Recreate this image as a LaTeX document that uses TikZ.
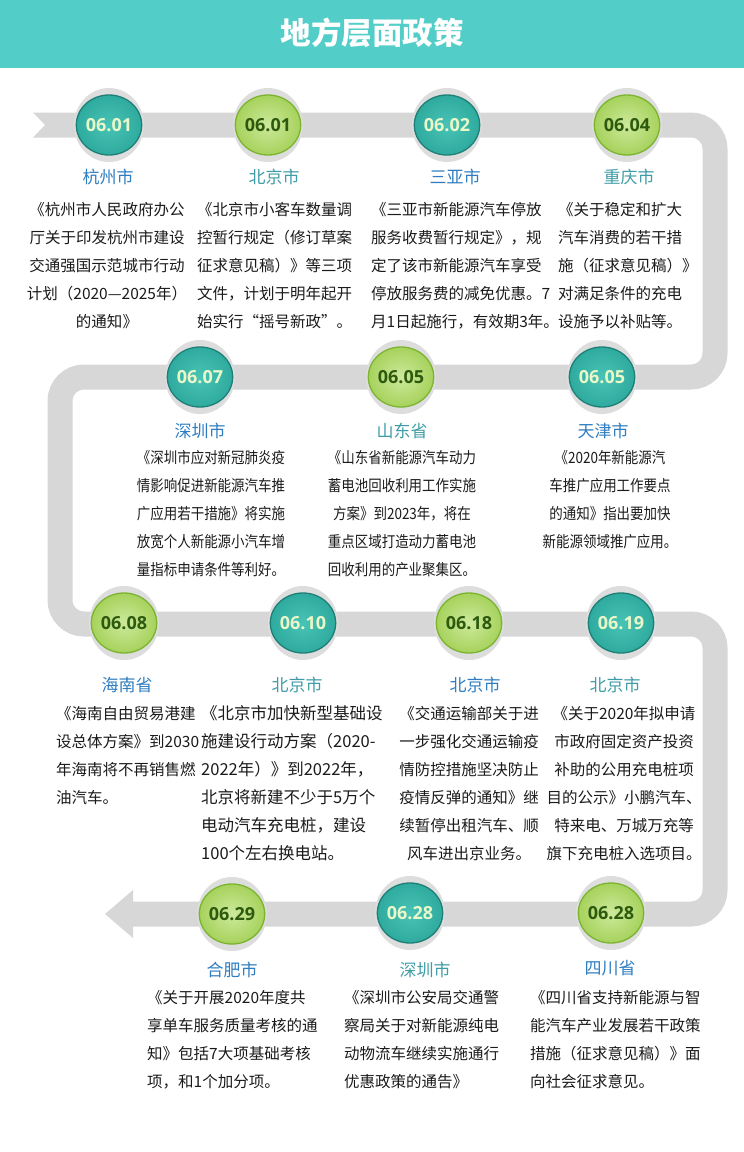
\documentclass[tikz,border=0pt]{standalone}
\usepackage{fontspec}
\usepackage{xcolor}
\usetikzlibrary{shapes.geometric}
\newfontfamily\cjk{Noto Sans CJK SC}
\newfontfamily\cjknarrow{Noto Sans CJK SC}[FakeStretch=0.87]
\newfontfamily\numfont{Open Sans}

\definecolor{headteal}{HTML}{52CDC7}
\definecolor{trackgray}{HTML}{D7D7D7}
\definecolor{halogray}{HTML}{DDDDDD}
\definecolor{dotteal}{HTML}{2FAA9E}
\definecolor{dottealin}{HTML}{48C4B6}
\definecolor{dottealrim}{HTML}{1E7F76}
\definecolor{dotgreen}{HTML}{A6D25C}
\definecolor{dotgreenin}{HTML}{CDE99C}
\definecolor{dotgreenrim}{HTML}{7BB42E}
\definecolor{numpale}{HTML}{EAF8C9}
\definecolor{numdark}{HTML}{2E5A0F}
\definecolor{cityblue}{HTML}{2F7DC0}
\definecolor{cityteal}{HTML}{3F9CA6}
\definecolor{bodyink}{HTML}{1A1A1A}

\begin{document}
\begin{tikzpicture}[x=1bp, y=-1bp,
    track/.style={trackgray, line width=25bp, rounded corners=24bp},
    bodytext/.style={inner sep=0pt, text=bodyink, font=\cjk\fontsize{15.5bp}{28bp}\selectfont},
    narrowtext/.style={bodytext, font=\cjknarrow\fontsize{15.5bp}{28bp}\selectfont},
    cityname/.style={inner sep=0pt, font=\cjk\fontsize{17bp}{20bp}\selectfont},
    dotbase/.style={ellipse, minimum width=57bp, minimum height=60bp, inner sep=0pt,
        line width=1.3bp, font=\numfont\bfseries\fontsize{18bp}{20bp}\selectfont},
    tealdot/.style={dotbase, draw=dottealrim, inner color=dottealin, outer color=dotteal, text=numpale},
    greendot/.style={dotbase, draw=dotgreenrim, inner color=dotgreenin, outer color=dotgreen, text=numdark}]

    \useasboundingbox (0,0) rectangle (744,1152);

    % Header
    \fill[headteal] (0,0) rectangle (744,68);
    \node[text=white, font=\cjk\bfseries\fontsize{30.5bp}{34bp}\selectfont] (title) at (372,33) {地方层面政策};

    % Track
    \coordinate (tail) at (45,125);
    \coordinate (ne) at (715,125);
    \coordinate (e2) at (715,377);
    \coordinate (w2) at (60,377);
    \coordinate (w3) at (60,624);
    \coordinate (e3) at (715,624);
    \coordinate (e4) at (715,914);
    \coordinate (head) at (132,914);
    \draw[track] (tail) -- (ne) -- (e2) -- (w2) -- (w3) -- (e3) -- (e4) -- (head);
    \fill[trackgray] (33,112.5) -- (46,112.5) -- (46,137.5) -- (33,137.5) -- (tail) -- cycle;
    \fill[trackgray] (133,890) -- (105,914) -- (133,938) -- cycle;

    % Date dots
    \foreach \i/\x/\y/\kind/\d in {1/109/125/tealdot/06.01, 2/268/125/greendot/06.01,
        3/447/125/tealdot/06.02, 4/627/125/greendot/06.04,
        5/200/377/tealdot/06.07, 6/401/377/greendot/06.05, 7/602/377/tealdot/06.05,
        8/124/623/greendot/06.08, 9/303/623/tealdot/06.10, 10/469/623/greendot/06.18,
        11/621/623/tealdot/06.19,
        12/232/914/greendot/06.29, 13/410/913/tealdot/06.28, 14/611/913/greendot/06.28} {
        \fill[halogray] (\x,\y) ellipse [x radius=35bp, y radius=37bp];
        \node[\kind] (d\i) at (\x,\y) {\d};
    }

    % Row 1
    \node[cityname, text=cityblue] (c1) at (108,177) {杭州市};
    \node[cityname, text=cityteal] (c2) at (274,177) {北京市};
    \node[cityname, text=cityblue] (c3) at (455,177) {三亚市};
    \node[cityname, text=cityteal] (c4) at (629,177) {重庆市};
    \node[bodytext, align=center, anchor=north] (b1) at (107,202)
        {《杭州市人民政府办公\\厅关于印发杭州市建设\\交通强国示范城市行动\\计划（2020—2025年）\\的通知》};
    \node[bodytext, align=left, anchor=north west] (b2) at (197,202)
        {《北京市小客车数量调\\控暂行规定（修订草案\\征求意见稿）》等三项\\文件，计划于明年起开\\始实行“摇号新政”。};
    \node[bodytext, align=left, anchor=north west] (b3) at (371,202)
        {《三亚市新能源汽车停放\\服务收费暂行规定》，规\\定了该市新能源汽车享受\\停放服务费的减免优惠。7\\月1日起施行，有效期3年。};
    \node[bodytext, align=left, anchor=north west] (b4) at (558,202)
        {《关于稳定和扩大\\汽车消费的若干措\\施（征求意见稿）》\\对满足条件的充电\\设施予以补贴等。};

    % Row 2
    \node[cityname, text=cityblue] (c5) at (200,431) {深圳市};
    \node[cityname, text=cityteal] (c6) at (402,431) {山东省};
    \node[cityname, text=cityblue] (c7) at (603,431) {天津市};
    \node[narrowtext, align=center, anchor=north] (b5) at (211,450)
        {《深圳市应对新冠肺炎疫\\情影响促进新能源汽车推\\广应用若干措施》将实施\\放宽个人新能源小汽车增\\量指标申请条件等利好。};
    \node[narrowtext, align=center, anchor=north] (b6) at (402,450)
        {《山东省新能源汽车动力\\蓄电池回收利用工作实施\\方案》到2023年，将在\\重点区域打造动力蓄电池\\回收利用的产业聚集区。};
    \node[narrowtext, align=center, anchor=north] (b7) at (610,450)
        {《2020年新能源汽\\车推广应用工作要点\\的通知》指出要加快\\新能源领域推广应用。};

    % Row 3
    \node[cityname, text=cityblue] (c8) at (127,685) {海南省};
    \node[cityname, text=cityteal] (c9) at (297,685) {北京市};
    \node[cityname, text=cityblue] (c10) at (475,685) {北京市};
    \node[cityname, text=cityteal] (c11) at (615,685) {北京市};
    \node[bodytext, align=left, anchor=north west] (b8) at (56,706)
        {《海南自由贸易港建\\设总体方案》到2030\\年海南将不再销售燃\\油汽车。};
    \node[bodytext, align=left, anchor=north west, font=\cjk\fontsize{16.5bp}{28bp}\selectfont] (b9) at (201,705)
        {《北京市加快新型基础设\\施建设行动方案（2020-\\2022年）》到2022年，\\北京将新建不少于5万个\\电动汽车充电桩，建设\\100个左右换电站。};
    \node[bodytext, align=center, anchor=north] (b10) at (469,706)
        {《交通运输部关于进\\一步强化交通运输疫\\情防控措施坚决防止\\疫情反弹的通知》继\\续暂停出租汽车、顺\\风车进出京业务。};
    \node[bodytext, align=center, anchor=north] (b11) at (624,706)
        {《关于2020年拟申请\\市政府固定资产投资\\补助的公用充电桩项\\目的公示》小鹏汽车、\\特来电、万城万充等\\旗下充电桩入选项目。};

    % Row 4
    \node[cityname, text=cityblue] (c12) at (232,970) {合肥市};
    \node[cityname, text=cityteal] (c13) at (425,970) {深圳市};
    \node[cityname, text=cityblue] (c14) at (610,968) {四川省};
    \node[bodytext, align=left, anchor=north west] (b12) at (147,990)
        {《关于开展2020年度共\\享单车服务质量考核的通\\知》包括7大项基础考核\\项，和1个加分项。};
    \node[bodytext, align=left, anchor=north west] (b13) at (344,990)
        {《深圳市公安局交通警\\察局关于对新能源纯电\\动物流车继续实施通行\\优惠政策的通告》};
    \node[bodytext, align=left, anchor=north west] (b14) at (530,990)
        {《四川省支持新能源与智\\能汽车产业发展若干政策\\措施（征求意见稿）》面\\向社会征求意见。};

\end{tikzpicture}
\end{document}
